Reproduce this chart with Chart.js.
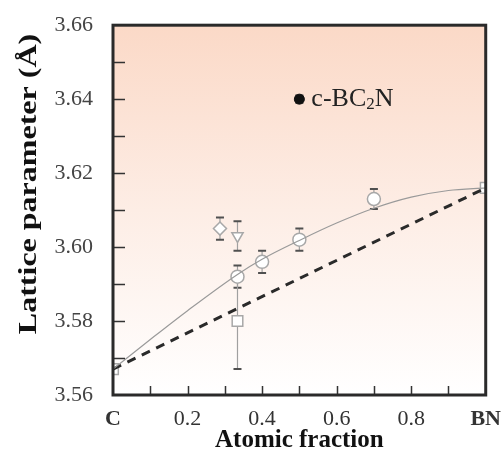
<!DOCTYPE html>
<html>
<head>
<meta charset="utf-8">
<script src="https://cdn.jsdelivr.net/npm/chart.js@4/dist/chart.umd.min.js"></script>
<style>
  html, body { margin: 0; padding: 0; background: #ffffff; }
  #wrap { width: 504px; height: 462px; }
</style>
</head>
<body>
<div id="wrap"><canvas id="c" width="504" height="462"></canvas></div>
<script>
// ---- data ----
const xTickValues = [0, 0.2, 0.4, 0.6, 0.8, 1];
const xTickLabels = ['C', '0.2', '0.4', '0.6', '0.8', 'BN'];
const xMinorTicks = [0.1, 0.2, 0.3, 0.4, 0.5, 0.6, 0.7, 0.8, 0.9];
const yTickValues = [3.56, 3.58, 3.60, 3.62, 3.64, 3.66];
const yTickLabels = ['3.56', '3.58', '3.60', '3.62', '3.64', '3.66'];
const yMinorTicks = [3.57, 3.58, 3.59, 3.60, 3.61, 3.62, 3.63, 3.64, 3.65];

const measX     = [0,       0.287,    0.334,      0.334,   0.334,  0.40,    0.50,    0.70,    1];
const measY     = [3.567,   3.605,    3.603,      3.592,   3.580,  3.596,   3.602,   3.613,   3.616];
const measErr   = [0,       0.003,    0.004,      0.003,   0.013,  0.003,   0.003,   0.0027,  0];
const measShape = ['rect',  'rectRot','triangle', 'circle','rect', 'circle','circle','circle','rect'];
const measRot   = [0,       0,        180,        0,       0,      0,       0,       0,       0];

const bc2nX = [0.5];
const bc2nY = [3.640];
const bc2nErr = [0.001];
const bc2nLabel = ['c-BC', '2', 'N'];

const fitX = [0,     0.1,   0.2,    0.334,  0.40,   0.50,   0.60,   0.70,   0.80,   0.90,   1];
const fitY = [3.567, 3.575, 3.5828, 3.5926, 3.5967, 3.6018, 3.6065, 3.6105, 3.6135, 3.6153, 3.616];

const vegardX = [0, 1];
const vegardY = [3.567, 3.616];

const xTitle = 'Atomic fraction';
const yTitle = 'Lattice parameter (\u00C5)';

const SERIF = '"Liberation Serif", "DejaVu Serif", serif';

const toPts = (xs, ys) => xs.map((x, i) => ({ x: x, y: ys[i] }));

// ---- plugins ----
const bgPlugin = {
  id: 'bg',
  beforeDatasetsDraw(chart) {
    const { ctx, chartArea: a } = chart;
    const g = ctx.createLinearGradient(0, a.top, 0, a.bottom);
    g.addColorStop(0, '#fbd9c7');
    g.addColorStop(0.5, '#fdede5');
    g.addColorStop(1, '#ffffff');
    ctx.save();
    ctx.fillStyle = g;
    ctx.fillRect(a.left, a.top, a.right - a.left, a.bottom - a.top);
    ctx.restore();
  }
};

function drawErrBars(chart, xs, ys, errs, lineColor, capColor) {
  const { ctx } = chart;
  const xs_ = chart.scales.x, ys_ = chart.scales.y;
  ctx.save();
  xs.forEach((xv, i) => {
    if (!errs[i]) return;
    const px = xs_.getPixelForValue(xv);
    const top = ys_.getPixelForValue(ys[i] + errs[i]);
    const bot = ys_.getPixelForValue(ys[i] - errs[i]);
    ctx.strokeStyle = lineColor;
    ctx.lineWidth = 1.2;
    ctx.beginPath(); ctx.moveTo(px, top); ctx.lineTo(px, bot); ctx.stroke();
    ctx.strokeStyle = capColor;
    ctx.lineWidth = 2;
    ctx.beginPath();
    ctx.moveTo(px - 4, top); ctx.lineTo(px + 4, top);
    ctx.moveTo(px - 4, bot); ctx.lineTo(px + 4, bot);
    ctx.stroke();
  });
  ctx.restore();
}

const errPlugin = {
  id: 'err',
  beforeDatasetDraw(chart, args) {
    if (args.index === 2) drawErrBars(chart, measX, measY, measErr, '#a0a0a0', '#505050');
    if (args.index === 3) drawErrBars(chart, bc2nX, bc2nY, bc2nErr, '#333333', '#333333');
  }
};

const framePlugin = {
  id: 'frame',
  afterDraw(chart) {
    const { ctx, chartArea: a } = chart;
    const sx = chart.scales.x, sy = chart.scales.y;
    ctx.save();
    ctx.strokeStyle = '#333333';
    ctx.lineWidth = 1.5;
    ctx.beginPath();
    yMinorTicks.forEach(v => {
      const py = Math.round(sy.getPixelForValue(v)) + 0.5;
      ctx.moveTo(a.left, py); ctx.lineTo(a.left + 12, py);
    });
    xMinorTicks.forEach(v => {
      const px = Math.round(sx.getPixelForValue(v)) + 0.5;
      ctx.moveTo(px, a.bottom); ctx.lineTo(px, a.bottom - 9);
    });
    ctx.stroke();
    ctx.lineWidth = 3;
    ctx.strokeStyle = '#2a2a2a';
    ctx.strokeRect(a.left, a.top, a.right - a.left, a.bottom - a.top);

    // c-BC2N label
    const px = sx.getPixelForValue(bc2nX[0]) + 12;
    const py = sy.getPixelForValue(bc2nY[0]);
    ctx.fillStyle = '#222222';
    ctx.textBaseline = 'middle';
    ctx.textAlign = 'left';
    ctx.font = '26px ' + SERIF;
    ctx.fillText(bc2nLabel[0], px, py);
    let w = ctx.measureText(bc2nLabel[0]).width;
    ctx.font = '17px ' + SERIF;
    ctx.fillText(bc2nLabel[1], px + w, py + 5);
    w += ctx.measureText(bc2nLabel[1]).width;
    ctx.font = '26px ' + SERIF;
    ctx.fillText(bc2nLabel[2], px + w, py);

    // y axis title (stretched along its length like the reference)
    ctx.translate(30, 184);
    ctx.rotate(-Math.PI / 2);
    ctx.scale(1.28, 1);
    ctx.font = 'bold 25px ' + SERIF;
    ctx.textAlign = 'center';
    ctx.fillStyle = '#111111';
    ctx.fillText(yTitle, 0, 0);
    ctx.restore();
  }
};

new Chart(document.getElementById('c'), {
  type: 'scatter',
  data: {
    datasets: [
      {
        label: 'fit',
        data: toPts(fitX, fitY),
        showLine: true,
        borderColor: '#9a9a9a',
        borderWidth: 1.2,
        pointRadius: 0,
        cubicInterpolationMode: 'monotone',
        fill: false
      },
      {
        label: 'Vegard',
        data: toPts(vegardX, vegardY),
        showLine: true,
        borderColor: '#2a2a2a',
        borderWidth: 3,
        borderDash: [9, 7],
        pointRadius: 0,
        fill: false
      },
      {
        label: 'measured',
        data: toPts(measX, measY),
        pointStyle: measShape,
        rotation: measRot,
        pointRadius: measShape.map(s => (s === 'rect' ? 7.5 : 6.5)),
        pointBackgroundColor: '#ffffff',
        pointBorderColor: '#a8a8a8',
        pointBorderWidth: 1.5
      },
      {
        label: 'c-BC2N',
        data: toPts(bc2nX, bc2nY),
        pointStyle: 'circle',
        pointRadius: 5,
        pointBackgroundColor: '#111111',
        pointBorderColor: '#111111'
      }
    ]
  },
  options: {
    responsive: false,
    animation: false,
    devicePixelRatio: 1,
    layout: { padding: { top: 23, right: 16, left: 0, bottom: 0 } },
    plugins: { legend: { display: false }, tooltip: { enabled: false } },
    scales: {
      x: {
        type: 'linear',
        min: 0, max: 1,
        afterBuildTicks: s => { s.ticks = xTickValues.map(v => ({ value: v })); },
        afterFit: s => { s.height = 67; },
        grid: { display: false },
        border: { display: false },
        ticks: {
          padding: 3,
          maxRotation: 0,
          autoSkip: false,
          color: '#333333',
          callback: (v, i) => xTickLabels[i],
          font: ctx => ({ family: SERIF, size: 22,
            weight: (ctx.index === 0 || ctx.index === xTickLabels.length - 1) ? 'bold' : 'normal' })
        },
        title: {
          display: true,
          text: xTitle,
          color: '#111111',
          font: { family: SERIF, size: 25, weight: 'bold' },
          padding: { top: 0, bottom: 6 }
        }
      },
      y: {
        type: 'linear',
        min: 3.56, max: 3.66,
        afterBuildTicks: s => { s.ticks = yTickValues.map(v => ({ value: v })); },
        afterFit: s => { s.width = 113; },
        grid: { display: false },
        border: { display: false },
        ticks: {
          padding: 12,
          autoSkip: false,
          color: '#444444',
          callback: (v, i) => yTickLabels[i],
          font: { family: SERIF, size: 22 }
        }
      }
    }
  },
  plugins: [bgPlugin, errPlugin, framePlugin]
});
</script>
</body>
</html>
